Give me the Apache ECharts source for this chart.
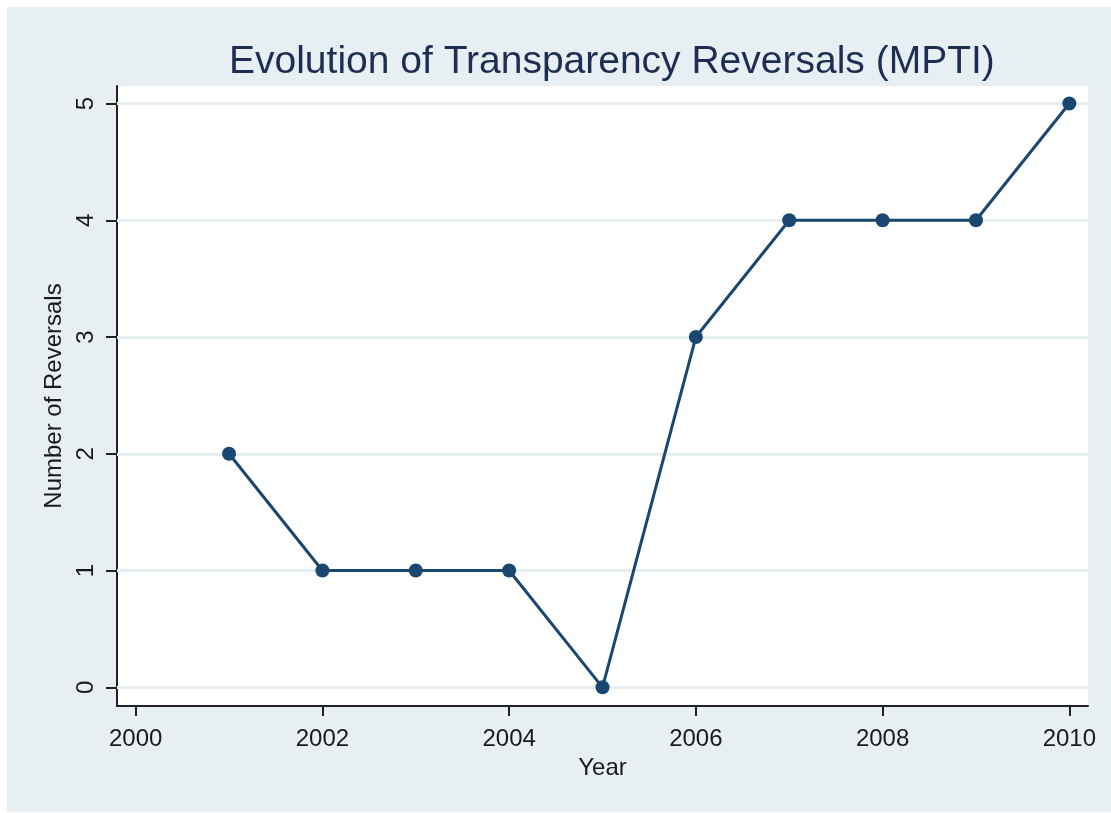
<!DOCTYPE html>
<html>
<head>
<meta charset="utf-8">
<script src="https://cdn.jsdelivr.net/npm/echarts@6/dist/echarts.min.js"></script>
<style>
  html, body { margin: 0; padding: 0; background: #ffffff; }
  #frame { position: absolute; left: 7px; top: 7px; width: 1104px; height: 805px; background: #e8eff2; }
  #chart { width: 1111px; height: 813px; position: absolute; left: 0; top: 0; }
</style>
</head>
<body>
<div id="frame"></div>
<div id="chart"></div>
<script>
// data
var years = [2001, 2002, 2003, 2004, 2005, 2006, 2007, 2008, 2009, 2010];
var reversals = [2, 1, 1, 1, 0, 3, 4, 4, 4, 5];
var xTicks = [2000, 2002, 2004, 2006, 2008, 2010];
var yTicks = [0, 1, 2, 3, 4, 5];

var chart = echarts.init(document.getElementById('chart'));

var lineColor = '#1a4770';
var textColor = '#1a1a1a';

var option = {
    backgroundColor: 'transparent',
    textStyle: { fontFamily: 'Liberation Sans' },
    title: {
        text: 'Evolution of Transparency Reversals (MPTI)',
        left: 224,
        top: 38,
        textStyle: { fontSize: 39, fontWeight: 'normal', color: '#1e2d52', fontFamily: 'Liberation Sans' }
    },
    grid: {
        left: 117, right: 23, top: 86, bottom: 107,
        show: true, backgroundColor: '#ffffff', borderWidth: 0
    },
    xAxis: {
        type: 'value',
        min: 1999.8,
        max: 2010.2,
        name: 'Year',
        nameLocation: 'middle',
        nameGap: 47,
        nameTextStyle: { fontSize: 24, color: textColor },
        axisLine: { show: true, onZero: false, lineStyle: { color: '#222', width: 2 } },
        axisTick: { show: true, length: 10, lineStyle: { color: '#222', width: 2 }, customValues: xTicks },
        axisLabel: {
            fontSize: 24, color: textColor, margin: 21, customValues: xTicks,
            formatter: function (v) { return String(v); }
        },
        splitLine: { show: false }
    },
    yAxis: {
        type: 'value',
        min: -0.16,
        max: 5.15,
        name: 'Number of Reversals',
        nameLocation: 'middle',
        nameGap: 50,
        nameRotate: 90,
        nameTextStyle: { fontSize: 24, color: textColor },
        axisLine: { show: true, onZero: false, lineStyle: { color: '#222', width: 2 } },
        axisTick: { show: true, length: 11, lineStyle: { color: '#222', width: 2 }, customValues: yTicks },
        axisLabel: { fontSize: 24, color: textColor, rotate: 90, margin: 19, customValues: yTicks },
        splitLine: { show: false }
    },
    series: [
        {
            // light horizontal grid lines at each tick
            type: 'line',
            data: [],
            silent: true,
            markLine: {
                silent: true,
                symbol: 'none',
                label: { show: false },
                lineStyle: { color: '#e6eef1', width: 3, type: 'solid' },
                data: yTicks.map(function (v) { return { yAxis: v }; })
            }
        },
        {
            type: 'line',
            data: years.map(function (y, i) { return [y, reversals[i]]; }),
            symbol: 'circle',
            symbolSize: 14,
            lineStyle: { color: lineColor, width: 3 },
            itemStyle: { color: lineColor },
            z: 5
        }
    ]
};

chart.setOption(option);
</script>
</body>
</html>
